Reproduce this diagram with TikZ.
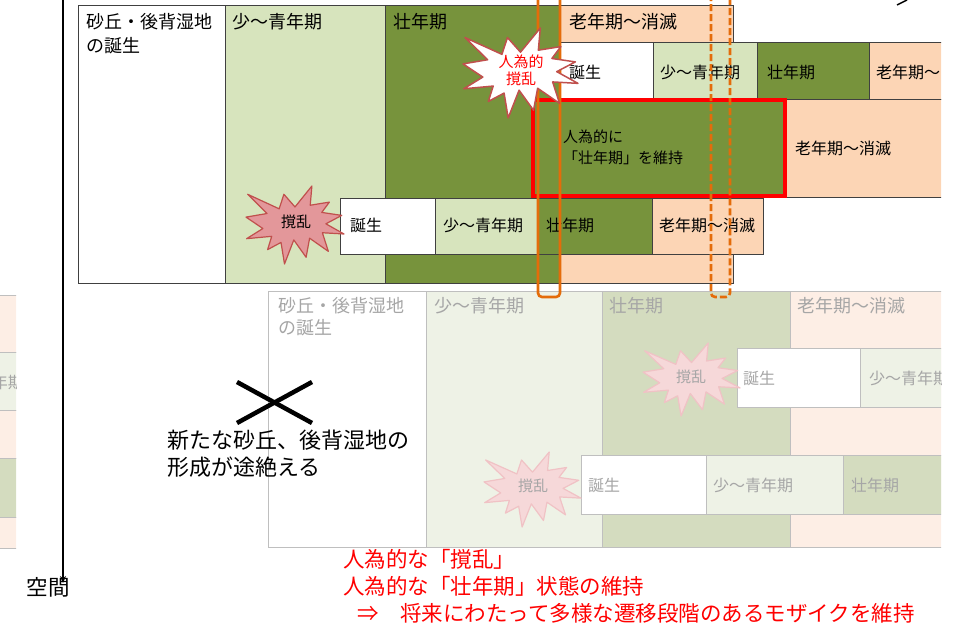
\documentclass[tikz,border=0pt]{standalone}
\usepackage{fontspec}
\setmainfont{Noto Sans CJK JP}
\usetikzlibrary{arrows.meta}
\definecolor{lgreen}{HTML}{D7E4BD}
\definecolor{dgreen}{HTML}{77933C}
\definecolor{peach}{HTML}{FCD5B5}
\definecolor{flgreen}{HTML}{EEF2E6}
\definecolor{fdgreen}{HTML}{D4DCBF}
\definecolor{fpeach}{HTML}{FDEEE5}
\definecolor{fborder}{HTML}{BFBFBF}
\definecolor{ftext}{HTML}{A6A6A6}
\definecolor{bord}{HTML}{404040}
\definecolor{orng}{HTML}{E46C0A}
\definecolor{sealfill}{HTML}{E3979A}
\definecolor{sealline}{HTML}{C0504D}
\definecolor{fsealfill}{HTML}{F6D8D9}
\definecolor{fsealline}{HTML}{F0C2C5}
\definecolor{redtxt}{HTML}{FF0000}
\newcommand\sealpath{(108,58)--(145.22,0)--(141.55,53.25)--(183.8,44.57)--(167.02,73.15)--(210.97,81.37)--(176.07,104.75)--(216,132.9)--(168.37,129.42)--(181.45,180.95)--(140.2,144.57)--(132.47,197.37)--(105.32,149.35)--(84.85,216)--(77.15,156.27)--(47.62,176.17)--(56.67,139.37)--(1.35,145.87)--(37.22,117.75)--(0,86.15)--(46.27,76.17)--(3.7,22.95)--(73.12,63.2)--(83.52,22.95)--cycle}
\newcommand\drawseal[5]{\begin{scope}[shift={(#1,#2)},xscale=#3/216,yscale=#4/216]\path[#5]\sealpath;\end{scope}}
\begin{document}
\begin{tikzpicture}[x=1pt,y=-1pt,
  box/.style={draw=bord,line width=0.9pt},
  fbox/.style={draw=fborder,line width=0.9pt},
  hlab/.style={font=\fontsize{18}{24}\selectfont,anchor=north west,inner sep=0pt,align=left},
  rlab/.style={font=\fontsize{16}{19}\selectfont,anchor=west,inner sep=0pt,align=left},
  fhlab/.style={hlab,text=ftext,font=\fontsize{18}{22}\selectfont},
  frlab/.style={rlab,text=ftext},
  seallab/.style={font=\fontsize{15}{17}\selectfont,inner sep=0pt,align=center},
  orect/.style={draw=orng,line width=2.6pt,rounded corners=4pt}]
\useasboundingbox (0,0) rectangle (960,627);

% ---------- left faded strip ----------
\begin{scope}
\clip (0,0) rectangle (16,627);
\path[fbox,fill=fpeach] (-20,295) rectangle (40,352);
\path[fbox,fill=flgreen] (-20,352) rectangle (40,410);
\path[fbox,fill=fpeach] (-20,410) rectangle (40,458);
\path[fbox,fill=fdgreen] (-20,458) rectangle (40,517);
\path[fbox,fill=fpeach] (-20,517) rectangle (40,548);
\node[frlab,anchor=east] (lstrip) at (24,382) {年期};
\end{scope}

\begin{scope}
\clip (0,-20) rectangle (941,640);
% ---------- faded lower block ----------
\path[fbox,fill=white] (268,291) rectangle (426,547);
\path[fbox,fill=flgreen] (426,291) rectangle (602,547);
\path[fbox,fill=fdgreen] (602,291) rectangle (790,547);
\path[fbox,fill=fpeach] (790,291) rectangle (980,547);
\node[fhlab] (f1) at (278,297) {砂丘・後背湿地\\の誕生};
\node[fhlab] (f2) at (434,297) {少〜青年期};
\node[fhlab] (f3) at (609,297) {壮年期};
\node[fhlab] (f4) at (797,297) {老年期〜消滅};
% faded row A
\path[fbox,fill=white] (737,348) rectangle (860,407);
\path[fbox,fill=flgreen] (860,348) rectangle (980,407);
\node[frlab] (fa1) at (743,378) {誕生};
\node[frlab] (fa2) at (869,378) {少〜青年期};
% faded row B
\path[fbox,fill=white] (581,455) rectangle (706,514);
\path[fbox,fill=flgreen] (706,455) rectangle (843,514);
\path[fbox,fill=fdgreen] (843,455) rectangle (980,514);
\node[frlab] (fb1) at (588,485) {誕生};
\node[frlab] (fb2) at (713,485) {少〜青年期};
\node[frlab] (fb3) at (851,485) {壮年期};
\drawseal{643}{343}{97}{73}{fill=fsealfill,draw=fsealline,line width=1.2pt,line join=round}
\node[seallab,text=ftext] (fs1) at (691,377) {撹乱};
\drawseal{484}{452}{97}{75}{fill=fsealfill,draw=fsealline,line width=1.2pt,line join=round}
\node[seallab,text=ftext] (fs2) at (533,486) {撹乱};

% ---------- main upper block ----------
\path[box,fill=white] (78,5) rectangle (225,283);
\path[box,fill=lgreen] (225,5) rectangle (385,283);
\path[box,fill=dgreen] (385,5) rectangle (560,283);
\path[box,fill=peach] (560,5) rectangle (733,283);
\node[hlab] (t1) at (86,13) {砂丘・後背湿地\\の誕生};
\node[hlab] (t2) at (232,13) {少〜青年期};
\node[hlab] (t3) at (393,13) {壮年期};
\node[hlab] (t4) at (569,13) {老年期〜消滅};
% row 2
\path[box,fill=white] (560,42) rectangle (653,99);
\path[box,fill=lgreen] (653,42) rectangle (757,99);
\path[box,fill=dgreen] (757,42) rectangle (869,99);
\path[box,fill=peach] (869,42) rectangle (980,99);
\node[rlab] (r2a) at (569,72) {誕生};
\node[rlab] (r2b) at (660,72) {少〜青年期};
\node[rlab] (r2c) at (767,72) {壮年期};
\node[rlab] (r2d) at (876,72) {老年期〜};
% row 3
\path[box,fill=peach] (785,99) rectangle (980,197);
\path[draw=redtxt,fill=dgreen,line width=3.6pt] (533,100) rectangle (785,196);
\node[rlab,font=\fontsize{15}{21}\selectfont] (r3a) at (563,147) {人為的に\\「壮年期」を維持};
\node[rlab] (r3b) at (795,148) {老年期〜消滅};
% row 4
\path[box,fill=white] (340,198) rectangle (435,254);
\path[box,fill=lgreen] (435,198) rectangle (537,254);
\path[box,fill=dgreen] (537,198) rectangle (652,254);
\path[box,fill=peach] (652,198) rectangle (763,254);
\node[rlab] (r4a) at (350,225) {誕生};
\node[rlab] (r4b) at (443,225) {少〜青年期};
\node[rlab] (r4c) at (546,225) {壮年期};
\node[rlab] (r4d) at (659,225) {老年期〜消滅};
\drawseal{246}{186}{98}{78}{fill=sealfill,draw=sealline,line width=1.2pt,line join=round}
\node[seallab] (s1) at (296,222) {撹乱};
% orange markers
\draw[orect] (538,-10) rectangle (560,297);
\draw[orect,dash pattern=on 7pt off 3pt] (711,-10) rectangle (730,297);
\drawseal{463}{28}{115}{90}{fill=white,draw=sealline,line width=1.5pt,line join=round}
\node[seallab,text=redtxt] (s2) at (521,70) {人為的\\撹乱};
\end{scope}

% fragment at top right
\draw[line width=1.5pt] (897,5) -- (907,0);

% ---------- axis ----------
\coordinate (axtop) at (63,-2);
\coordinate (axend) at (63,583);
\draw[line width=1.6pt,-{Stealth[length=7pt,width=6pt]}] (axtop) -- (axend);
\node[font=\fontsize{21.5}{24}\selectfont,inner sep=0pt] (kukan) at (48,587) {空間};

% ---------- cross and texts ----------
\draw[line width=4.5pt] (237,382) -- (312,423);
\draw[line width=4.5pt] (237,423) -- (312,382);
\node[font=\fontsize{22}{27}\selectfont,anchor=west,align=left,inner sep=0pt] (msg) at (167,454) {新たな砂丘、後背湿地の\\形成が途絶える};
\node[font=\fontsize{21.5}{27}\selectfont,text=redtxt,anchor=north west,align=left,inner sep=0pt] (note) at (343,549) {人為的な「撹乱」\\人為的な「壮年期」状態の維持\\ \hspace*{14pt}⇒　将来にわたって多様な遷移段階のあるモザイクを維持};
\end{tikzpicture}
\end{document}
